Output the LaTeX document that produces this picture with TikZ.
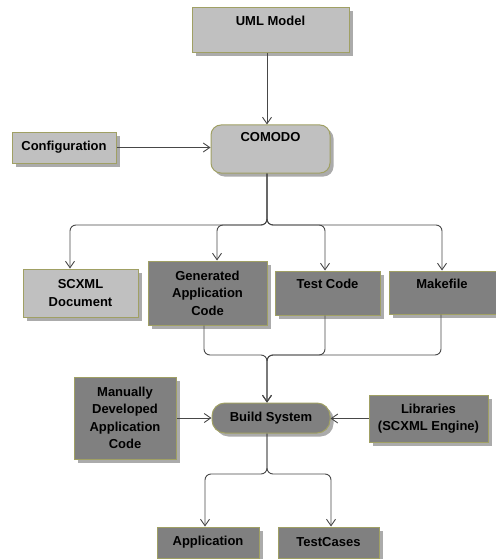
\documentclass[tikz,border=0pt]{standalone}
\usepackage{fontspec}
\setmainfont{Liberation Sans}
\usetikzlibrary{arrows.meta,shadows}
\definecolor{lightbox}{HTML}{C0C0C0}
\definecolor{darkbox}{HTML}{808080}
\definecolor{edgec}{HTML}{A0A064}
\definecolor{shadowc}{HTML}{ABABAB}
\definecolor{connc}{HTML}{484848}
\begin{document}
\begin{tikzpicture}[x=1pt,y=-1pt,
  txtfont/.style={font=\fontsize{13}{17.5}\selectfont\bfseries},
  base/.style={draw=edgec, line width=1pt, inner sep=0pt, align=center, txtfont,
    drop shadow={shadow xshift=3.5pt,shadow yshift=-3.5pt,fill=shadowc,opacity=1}},
  light/.style={base, fill=lightbox},
  dark/.style={base, fill=darkbox},
  rnd/.style={rounded corners=#1},
  toplbl/.style={anchor=north, inner sep=0pt, yshift=-8pt, draw=none, fill=none, txtfont},
  conn/.style={draw=connc, line width=0.9pt, -{Straight Barb[length=6.5pt,width=9pt]}},
  branch/.style={conn, rounded corners=6pt}]
\useasboundingbox (0,0) rectangle (495,559);

\node[light, minimum width=157, minimum height=45, label={[toplbl]north:UML Model}] (uml) at (270.5,30.5) {};
\node[light, rnd=10pt, minimum width=119, minimum height=48, label={[toplbl]north:COMODO}] (comodo) at (270.5,149) {};
\node[light, minimum width=104, minimum height=31] (config) at (64,147.5) {Configuration};

\node[light, minimum width=115, minimum height=48] (scxml) at (80.5,293) {SCXML\\Document};
\node[dark, minimum width=119, minimum height=64] (gen) at (207.5,293) {Generated\\Application\\Code};
\node[dark, minimum width=105, minimum height=44, label={[toplbl]north:Test Code}] (test) at (327.5,293) {};
\node[dark, minimum width=114, minimum height=43, label={[toplbl,xshift=-4pt]north:Makefile}] (make) at (446,292.5) {};

\node[dark, minimum width=102, minimum height=82] (manual) at (125,418) {Manually\\Developed\\Application\\Code};
\node[dark, rnd=13pt, minimum width=118, minimum height=30] (build) at (271,418) {Build System};
\node[dark, minimum width=119, minimum height=47] (libs) at (428.5,418.5) {Libraries\\(SCXML Engine)};

\node[dark, minimum width=102, minimum height=31] (app) at (208,542.5) {Application};
\node[dark, minimum width=101, minimum height=31] (tests) at (328.5,542.5) {TestCases};

\coordinate (j1) at (267,225);
\coordinate (j2) at (267,355);
\coordinate (j3) at (267,474);

\draw[conn] ([xshift=-3.5pt]uml.south) -- ([xshift=-3.5pt]comodo.north);
\draw[conn] (config.east) -- (config.east -| comodo.west);

\draw[branch] ([xshift=-3.5pt]comodo.south) -- (j1) -| ([xshift=-10.5pt]scxml.north);
\draw[branch] ([xshift=-3.5pt]comodo.south) -- (j1) -| ([xshift=9.5pt]gen.north);
\draw[branch] ([xshift=-3.5pt]comodo.south) -- (j1) -| ([xshift=-2.5pt]test.north);
\draw[branch] ([xshift=-3.5pt]comodo.south) -- (j1) -| ([xshift=-4pt]make.north);

\draw[branch] ([xshift=-3.5pt]gen.south) |- (j2) -- ([xshift=-4pt]build.north);
\draw[branch] ([xshift=-2.5pt]test.south) |- (j2) -- ([xshift=-4pt]build.north);
\draw[branch] ([xshift=-5pt]make.south) |- (j2) -- ([xshift=-4pt]build.north);

\draw[conn] (manual.east) -- (manual.east -| build.west);
\draw[conn] (libs.west) -- (libs.west -| build.east);

\draw[branch] ([xshift=-4pt]build.south) -- (j3) -| ([xshift=-3pt]app.north);
\draw[branch] ([xshift=-4pt]build.south) -- (j3) -| ([xshift=2.5pt]tests.north);
\end{tikzpicture}
\end{document}
